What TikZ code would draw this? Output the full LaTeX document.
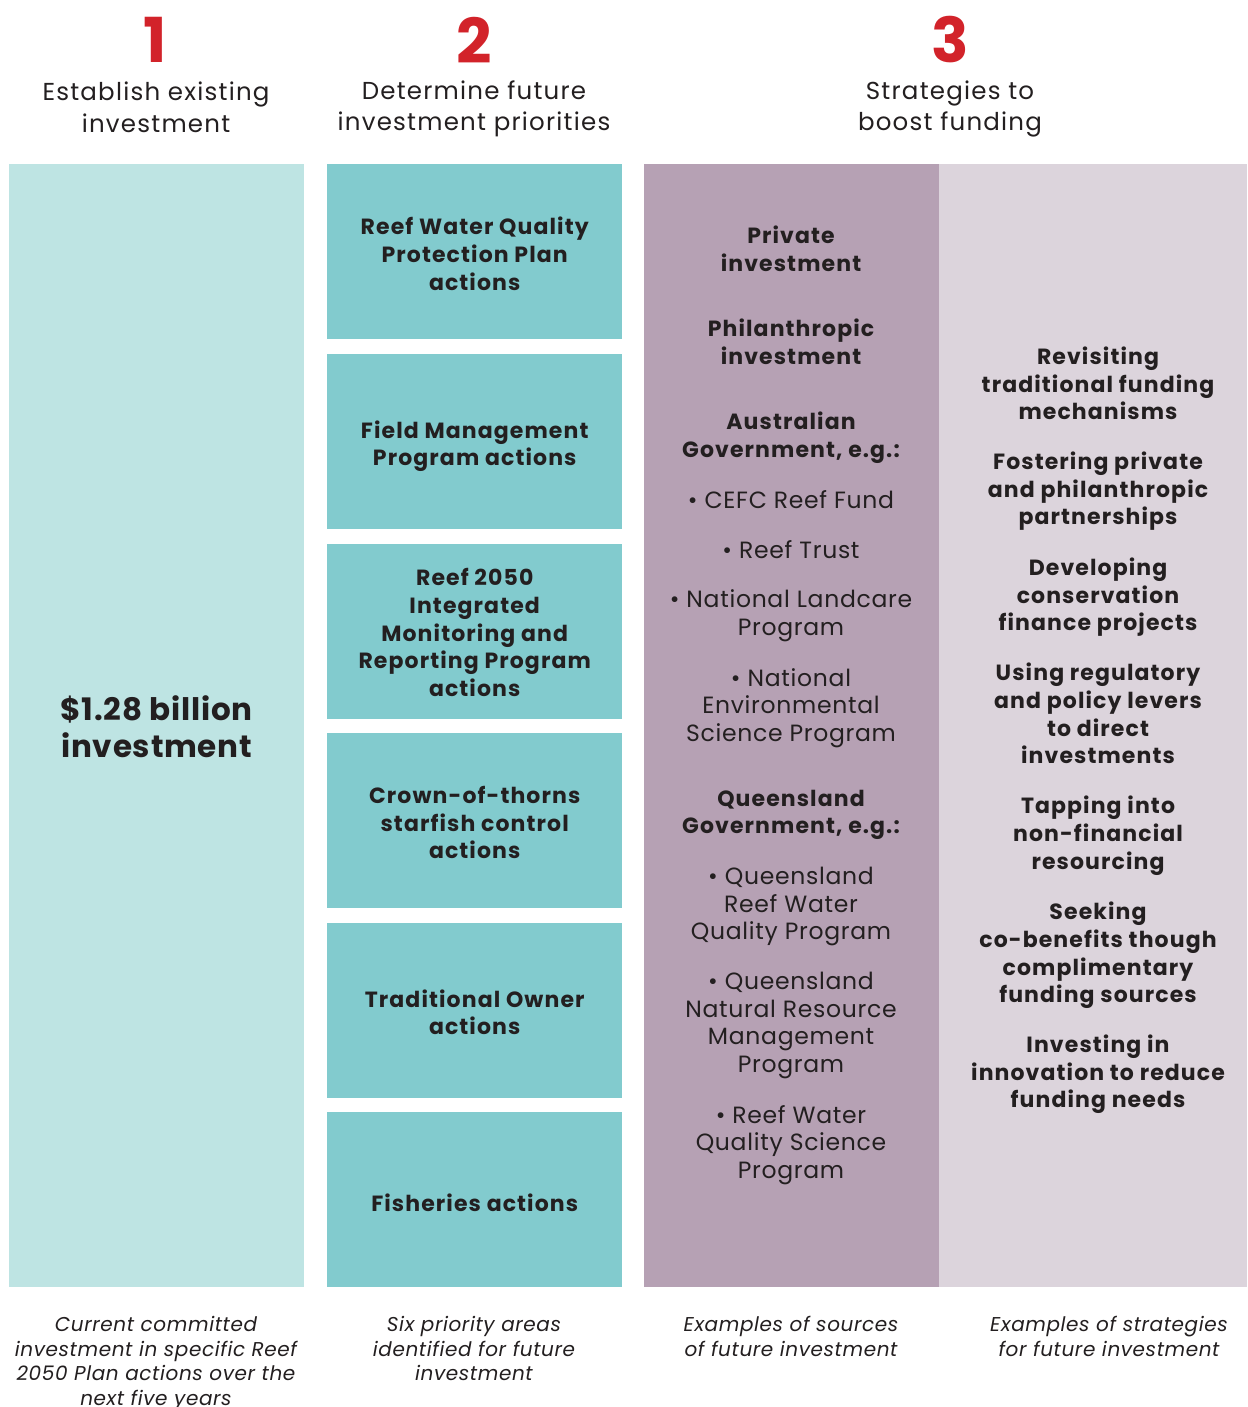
\documentclass[tikz,border=0pt]{standalone}
\usepackage{fontspec}
\setmainfont{Poppins}
\newfontfamily\hfont[LetterSpace=5]{Poppins}
\newfontfamily\bfont[LetterSpace=5]{Poppins}
\newfontfamily\rfont[LetterSpace=3]{Poppins}
\newfontfamily\nfont[LetterSpace=3]{Poppins}
\newfontfamily\gfont[LetterSpace=2.5]{Poppins}
\definecolor{numred}{HTML}{D2232A}
\definecolor{lteal}{HTML}{BEE4E3}
\definecolor{mteal}{HTML}{82CBCE}
\definecolor{mauve}{HTML}{B6A1B4}
\definecolor{lmauve}{HTML}{DCD4DC}
\definecolor{ink}{HTML}{231F20}
\begin{document}
\begin{tikzpicture}[x=1pt,y=-1pt,
  struts/.style={execute at begin node=\strut, execute at end node=\strut},
  panel/.style={anchor=north west, inner sep=0pt, draw=none},
  prio/.style={panel, fill=mteal, minimum width=295pt, minimum height=175pt},
  numlbl/.style={text=numred, font=\fontsize{62}{62}\selectfont\bfseries, inner sep=0pt},
  headlbl/.style={text=ink, align=center, inner sep=0pt, struts, yshift=-3pt, font=\hfont\fontsize{24.5}{31.5}\selectfont},
  boldlbl/.style={text=ink, align=center, inner sep=0pt, struts, yshift=-2pt, font=\bfont\fontsize{22}{27.7}\selectfont\bfseries},
  reglbl/.style={text=ink, align=center, inner sep=0pt, struts, yshift=-2pt, font=\rfont\fontsize{23.5}{27.7}\selectfont},
  notelbl/.style={text=ink, align=center, inner sep=0pt, struts, yshift=-2pt, font=\nfont\fontsize{20}{24.5}\selectfont\itshape},
  biglbl/.style={text=ink, align=center, inner sep=0pt, struts, font=\gfont\fontsize{31}{37.5}\selectfont\bfseries}
]
\useasboundingbox (0,0) rectangle (1247,1407);
\fill[white] (0,0) rectangle (1247,1407);

% headers
\node[numlbl] (n1) at (155,40) {1};
\node[numlbl] (n2) at (474,40) {2};
\node[numlbl] (n3) at (950,40) {3};
\node[headlbl] (h1) at (156,109) {Establish existing\\investment};
\node[headlbl] (h2) at (474,107.5) {Determine future\\investment priorities};
\node[headlbl] (h3) at (950,107.5) {Strategies to\\boost funding};

% column panels
\node[panel, fill=lteal, minimum width=295pt, minimum height=1123pt] (c1) at (9,164) {};
\node[panel, fill=mauve, minimum width=295pt, minimum height=1123pt] (c3) at (644,164) {};
\node[panel, fill=lmauve, minimum width=308pt, minimum height=1123pt] (c4) at (939,164) {};

% column 1
\node[biglbl] (big) at ([yshift=-6.5pt]c1.center) {\$1.28 billion\\investment};

% column 2 boxes
\node[prio] (b1) at (327,164) {};
\node[prio] (b2) at (327,354) {};
\node[prio] (b3) at (327,544) {};
\node[prio] (b4) at (327,733) {};
\node[prio] (b5) at (327,923) {};
\node[prio] (b6) at (327,1112) {};
\node[boldlbl] (t1) at ([yshift=-4pt]b1.center) {Reef Water Quality\\Protection Plan\\actions};
\node[boldlbl] (t2) at ([yshift=-3.5pt]b2.center) {Field Management\\Program actions};
\node[boldlbl] (t3) at ([yshift=-3pt]b3.center) {Reef 2050\\Integrated\\Monitoring and\\Reporting Program\\actions};
\node[boldlbl] (t4) at ([yshift=-4pt]b4.center) {Crown-of-thorns\\starfish control\\actions};
\node[boldlbl] (t5) at ([yshift=-3.5pt]b5.center) {Traditional Owner\\actions};
\node[boldlbl] (t6) at ([yshift=-4.5pt]b6.center) {Fisheries actions};

% column 3
\node[boldlbl] (p1) at (791,251) {Private\\investment};
\node[boldlbl] (p2) at (791,344) {Philanthropic\\investment};
\node[boldlbl] (p3) at (791,437) {Australian\\Government, e.g.:};
\node[reglbl] (p4) at (791,501) {• CEFC Reef Fund};
\node[reglbl] (p5) at (791,551) {• Reef Trust};
\node[reglbl] (p6) at (791,615) {• National Landcare\\Program};
\node[reglbl] (p7) at (791,707) {• National\\Environmental\\Science Program};
\node[boldlbl] (p8) at (791,814) {Queensland\\Government, e.g.:};
\node[reglbl] (p9) at (791,905.5) {• Queensland\\Reef Water\\Quality Program};
\node[reglbl] (p10) at (791,1024.5) {• Queensland\\Natural Resource\\Management\\Program};
\node[reglbl] (p11) at (791,1144) {• Reef Water\\Quality Science\\Program};

% column 4
\node[boldlbl] (s1) at (1098,385.5) {Revisiting\\traditional funding\\mechanisms};
\node[boldlbl] (s2) at (1098,490.5) {Fostering private\\and philanthropic\\partnerships};
\node[boldlbl] (s3) at (1098,596.5) {Developing\\conservation\\finance projects};
\node[boldlbl] (s4) at (1098,715.5) {Using regulatory\\and policy levers\\to direct\\investments};
\node[boldlbl] (s5) at (1098,835) {Tapping into\\non-financial\\resourcing};
\node[boldlbl] (s6) at (1098,954.5) {Seeking\\co-benefits though\\complimentary\\funding sources};
\node[boldlbl] (s7) at (1098,1073.5) {Investing in\\innovation to reduce\\funding needs};

% footnotes
\node[notelbl] (f1) at (156,1362.5) {Current committed\\investment in specific Reef\\2050 Plan actions over the\\next five years};
\node[notelbl] (f2) at (474,1350.5) {Six priority areas\\identified for future\\investment};
\node[notelbl] (f3) at (791,1338) {Examples of sources\\of future investment};
\node[notelbl] (f4) at (1109,1338) {Examples of strategies\\for future investment};
\end{tikzpicture}
\end{document}
